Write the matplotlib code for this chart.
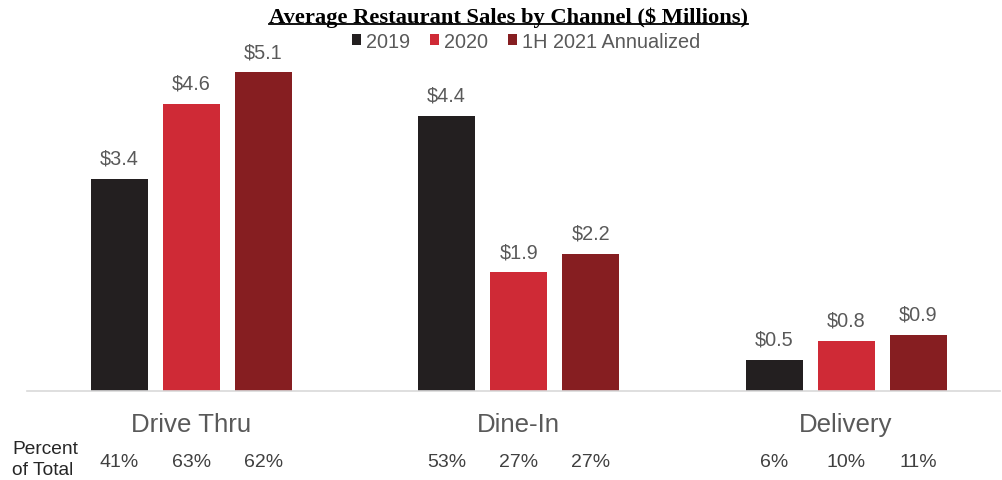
import numpy as np
import matplotlib
matplotlib.use("Agg")
import matplotlib.pyplot as plt
from matplotlib.lines import Line2D

channels = ["Drive Thru", "Dine-In", "Delivery"]
series = ["2019", "2020", "1H 2021 Annualized"]
sales_2019 = [3.4, 4.4, 0.5]
sales_2020 = [4.6, 1.9, 0.8]
sales_2021 = [5.1, 2.2, 0.9]
pct_2019 = ["41%", "53%", "6%"]
pct_2020 = ["63%", "27%", "10%"]
pct_2021 = ["62%", "27%", "11%"]
colors = ["#231f20", "#cf2a36", "#861e21"]

plt.rcParams['font.family'] = ['Liberation Sans', 'DejaVu Sans']

W, H = 1003, 481
fig = plt.figure(figsize=(W / 100, H / 100), dpi=100)
ax = fig.add_axes([27 / W, (H - 392) / H, (1000 - 27) / W, (392 - 50) / H])

x = np.arange(len(channels))
width = 0.174
offset = 0.22
values = [sales_2019, sales_2020, sales_2021]
pcts = [pct_2019, pct_2020, pct_2021]

handles = []
for i, (vals, pc) in enumerate(zip(values, pcts)):
    xs = x + (i - 1) * offset
    bars = ax.bar(xs, vals, width, color=colors[i], label=series[i], zorder=2)
    handles.append(bars)
    for xx, v in zip(xs, vals):
        ax.annotate("$%.1f" % v, (xx, v), xytext=(0, 8), textcoords="offset points",
                    ha="center", va="bottom", fontsize=14.3, color="#595959")
    for xx, p in zip(xs, pc):
        ax.text(xx, -0.205, p, transform=ax.get_xaxis_transform(), ha="center",
                va="center", fontsize=14, color="#404040")

for xx, name in zip(x, channels):
    ax.text(xx, -0.097, name, transform=ax.get_xaxis_transform(), ha="center",
            va="center", fontsize=18.6, color="#595959")

ax.set_xlim(-0.5015, 2.47)
ax.set_ylim(0, 342 / 62.5)
for s in ["top", "right", "left"]:
    ax.spines[s].set_visible(False)
ax.spines["bottom"].set_color("#d9d9d9")
ax.spines["bottom"].set_linewidth(1.2)
ax.set_xticks([])
ax.set_yticks([])

fig.text(12 / W, 1 - 450 / H, "Percent", fontsize=13.8, color="#262626", va="center")
fig.text(12 / W, 1 - 471 / H, "of Total", fontsize=13.8, color="#262626", va="center")

title = fig.text(509 / W, 1 - 18 / H, "Average Restaurant Sales by Channel ($ Millions)",
                 ha="center", va="center", fontsize=16.2, fontweight="bold",
                 family="Liberation Serif", color="black")
fig.canvas.draw()
bb = title.get_window_extent(fig.canvas.get_renderer())
fig.add_artist(Line2D([bb.x0 / W, bb.x1 / W], [(bb.y0 + 3) / H, (bb.y0 + 3) / H],
                      transform=fig.transFigure, color="black", lw=1.3))

fig.legend(handles=handles, loc="center", bbox_to_anchor=(526 / W, 1 - 42 / H), ncol=3,
           frameon=False, fontsize=14.3, handlelength=0.45, handleheight=0.45,
           handletextpad=0.25, columnspacing=1.0, labelcolor="#595959")

fig.savefig("out.png", dpi=100)
